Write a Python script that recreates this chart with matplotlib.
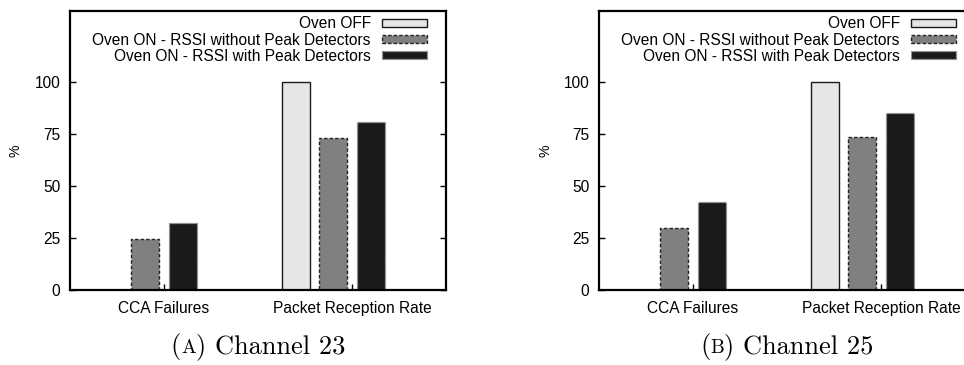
import matplotlib
matplotlib.use('Agg')
from matplotlib import pyplot as plt
import numpy as np

plt.rcParams['font.family'] = ['Liberation Sans', 'DejaVu Sans']

# values per channel: [CCA Failures, Packet Reception Rate]
categories = ['CCA Failures', 'Packet Reception Rate']
series_names = ['Oven OFF',
                'Oven ON - RSSI without Peak Detectors',
                'Oven ON - RSSI with Peak Detectors']
ch23_off = [0, 100]
ch23_no_peak = [24.5, 72.9]
ch23_peak = [32.4, 80.8]
ch25_off = [0, 100]
ch25_no_peak = [29.6, 73.7]
ch25_peak = [42.5, 85.1]
captions = [('A', ' Channel 23'), ('B', ' Channel 25')]

styles = [
    dict(facecolor='#e6e6e6', edgecolor='#1a1a1a', linestyle='-'),
    dict(facecolor='#808080', edgecolor='#222222', linestyle=(0, (2.5, 1.5))),
    dict(facecolor='#1a1a1a', edgecolor='#9a9a9a', linestyle=(0, (1, 1))),
]

FS = 11.2
fig = plt.figure(figsize=(9.64, 3.65), dpi=100)
W, H = 964, 365


def draw_panel(left_px, series, caption):
    ax = fig.add_axes([left_px / W, 75 / H, 376 / W, 279 / H])
    x = np.arange(len(categories)) * 5
    for i, (vals, st) in enumerate(zip(series, styles)):
        ax.bar(x + i, vals, width=0.75, linewidth=1.0, label=series_names[i], **st)
    ax.set_xlim(-1, 9)
    ax.set_ylim(0, 134)
    ax.set_yticks([0, 25, 50, 75, 100])
    ax.set_xticks(x + 1.5)
    ax.set_xticklabels(categories)
    ax.tick_params(axis='y', direction='in', length=4, width=1, right=True,
                   labelsize=FS, pad=7)
    ax.tick_params(axis='x', direction='in', length=4, width=1,
                   labelsize=FS, pad=8)
    for sp in ax.spines.values():
        sp.set_linewidth(1.6)
    ax.set_ylabel('%', fontsize=FS - 1)
    ax.yaxis.set_label_coords(-47 / 376, 0.5)
    ax.legend(loc='upper right', bbox_to_anchor=(1 - 10 / 376, 1 + 4 / 279),
              frameon=False, markerfirst=False,
              fontsize=FS, handlelength=2.9, handleheight=0.45,
              labelspacing=0.08, handletextpad=0.7, borderaxespad=0.3,
              borderpad=0.3)

    # caption with a small-caps letter
    cx = (left_px + 188) / W
    cy = 12 / H
    fig.canvas.draw()
    r = fig.canvas.get_renderer()
    parts = [('(', 19), (caption[0], 14), (')' + caption[1], 19)]
    texts = [fig.text(0, cy, s, fontsize=fs, family='cmr10', va='baseline')
             for s, fs in parts]
    widths = [t.get_window_extent(r).width / W for t in texts]
    pos = cx - sum(widths) / 2
    for t, w in zip(texts, widths):
        t.set_x(pos)
        pos += w
    return ax


draw_panel(70, [ch23_off, ch23_no_peak, ch23_peak], captions[0])
draw_panel(599, [ch25_off, ch25_no_peak, ch25_peak], captions[1])

fig.savefig('out.png', dpi=100)
